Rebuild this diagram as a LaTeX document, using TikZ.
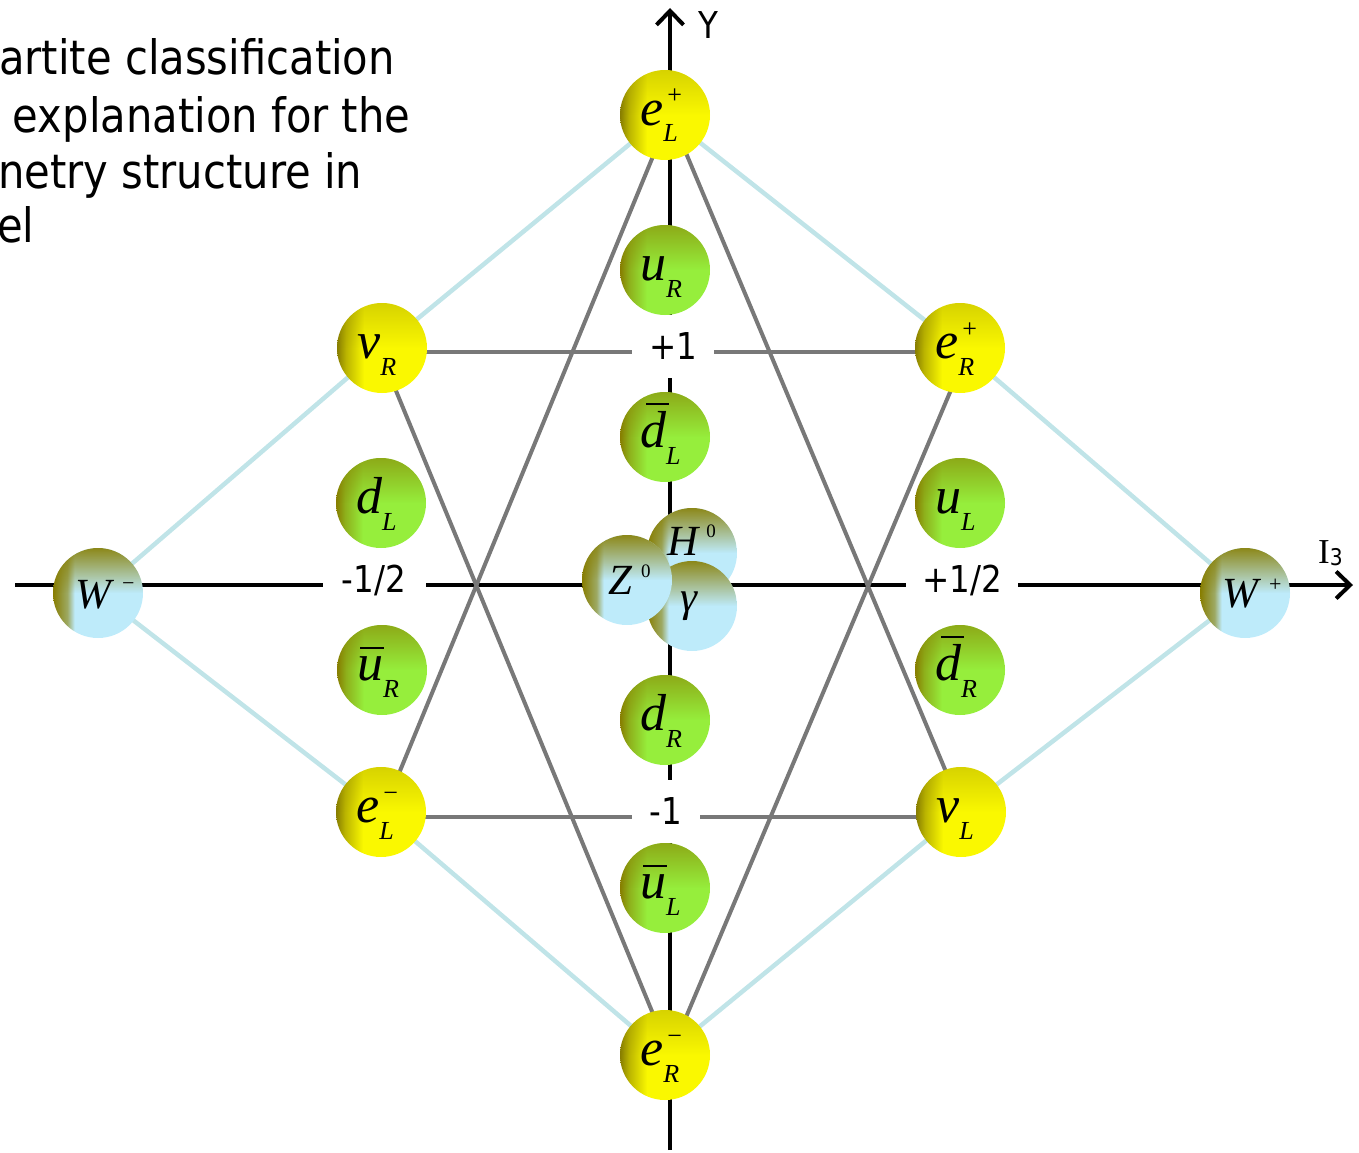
\documentclass[tikz,border=0pt]{standalone}
\usepackage{fontspec}
\setmainfont{DejaVu Sans}[FakeStretch=0.88]
\newfontfamily\tnr{Liberation Serif}
\newcommand\tnri{\tnr\itshape}
\usetikzlibrary{arrows.meta,calc,fadings}
\pgfdeclarelayer{bg}\pgfdeclarelayer{mid}\pgfsetlayers{bg,mid,main}
\definecolor{olv}{RGB}{135,125,0}
\definecolor{yel}{RGB}{250,248,0}
\definecolor{grn}{RGB}{150,238,60}
\definecolor{lbl}{RGB}{190,235,250}
\definecolor{diam}{RGB}{192,228,232}
\definecolor{gline}{RGB}{120,120,120}
\pgfdeclarehorizontalshading{yshade}{100bp}{color(0bp)=(olv); color(25bp)=(olv); color(30bp)=(olv!55!yel); color(40bp)=(yel); color(100bp)=(yel)}
\pgfdeclarehorizontalshading{gshade}{100bp}{color(0bp)=(olv); color(25bp)=(olv); color(30bp)=(olv!55!grn); color(40bp)=(grn); color(100bp)=(grn)}
\pgfdeclarehorizontalshading{bshade}{100bp}{color(0bp)=(olv); color(25bp)=(olv); color(33bp)=(olv!60!lbl); color(37bp)=(lbl); color(100bp)=(lbl)}
\tikzfading[name=topfade, top color=transparent!0, bottom color=transparent!100, middle color=transparent!100]
% particle label: main letter, superscript, subscript
\newcommand\ptc[3]{{\tnri\fontsize{52}{60}\selectfont #1}\makebox[0pt][l]{\kern4pt\raisebox{21pt}{\tnr\fontsize{26}{30}\selectfont #2}}\raisebox{-17pt}{\tnri\fontsize{26}{30}\selectfont #3}}
\newcommand\bd{\makebox[0pt][l]{\kern6pt\raisebox{42pt}{\rule{23pt}{2.3pt}}}d}
\newcommand\bu{\makebox[0pt][l]{\kern3pt\raisebox{31pt}{\rule{24pt}{2.3pt}}}u}
\begin{document}
\begin{tikzpicture}[x=1pt,y=-1pt,
  ball/.style={circle, minimum size=90pt, inner sep=0pt, shade},
  yball/.style={ball, shading=yshade, path picture={\fill[olv, path fading=topfade, fill opacity=0.3] (path picture bounding box.south west) rectangle (path picture bounding box.north east);}},
  gball/.style={ball, shading=gshade, path picture={\fill[olv, path fading=topfade, fill opacity=0.6] (path picture bounding box.south west) rectangle (path picture bounding box.north east);}},
  bball/.style={ball, shading=bshade, path picture={\fill[olv, path fading=topfade, fill opacity=0.9] (path picture bounding box.south west) rectangle (path picture bounding box.north east);}},
  lab/.style={anchor=base west, inner sep=0pt},
  axisline/.style={line width=4pt, black, -{Straight Barb[length=14pt,width=27pt]}},
  diamline/.style={line width=4.5pt, diam},
  triline/.style={line width=4pt, gline},
  axlab/.style={fill=white, inner sep=0pt, font=\fontsize{37}{44}\selectfont},
  titletext/.style={anchor=base west, inner sep=0pt, font=\fontsize{47.4}{56}\selectfont},
]
\useasboundingbox (0,0) rectangle (1359,1153);
\newcommand\ballat[4]{\node[#1] (#2) at (#3) {};\node[lab] (#2t) at ($(#2)+(-25,10)$) {#4};}

% title text (cut at left edge)
\node[titletext] (t1) at (-1,75) {artite classification};
\node[titletext] (t2) at (12.7,132) {explanation for the};
\node[titletext] (t3) at (-2,188) {netry structure in};
\node[titletext] (t4) at (-3,242) {el};

% balls
\ballat{yball}{eLp}{665,115}{\ptc{e}{+}{L}}
\ballat{gball}{uR}{665,270}{\ptc{u}{}{R}}
\ballat{yball}{nuR}{382,348}{\ptc{ν}{}{R}}
\ballat{yball}{eRp}{960,348}{\ptc{e}{+}{R}}
\ballat{gball}{dbL}{665,437}{\ptc{\bd}{}{L}}
\ballat{gball}{dL}{381,503}{\ptc{d}{}{L}}
\ballat{gball}{uL}{960,503}{\ptc{u}{}{L}}
\ballat{gball}{ubR}{382,670}{\ptc{\bu}{}{R}}
\ballat{gball}{dbR}{960,670}{\ptc{\bd}{}{R}}
\ballat{gball}{dR}{665,720}{\ptc{d}{}{R}}
\ballat{yball}{eLm}{381,812}{\ptc{e}{−}{L}}
\ballat{yball}{nuL}{961,812}{\ptc{ν}{}{L}}
\ballat{gball}{ubL}{665,888}{\ptc{\bu}{}{L}}
\ballat{yball}{eRm}{665,1055}{\ptc{e}{−}{R}}

\node[bball] (Wm) at (98,593) {};
\node[lab] (Wmt) at ($(Wm)+(-23,15)$) {{\tnri\fontsize{43}{48}\selectfont W}\kern11pt\raisebox{18pt}{\tnr\fontsize{22}{24}\selectfont −}};
\node[bball] (Wp) at (1245,593) {};
\node[lab] (Wpt) at ($(Wp)+(-23,14)$) {{\tnri\fontsize{43}{48}\selectfont W}\kern11pt\raisebox{16pt}{\tnr\fontsize{22}{24}\selectfont +}};
\node[bball] (H) at (692,553) {};
\node[lab] (Ht) at ($(H)+(-25,2)$) {{\tnri\fontsize{43}{48}\selectfont H}\kern8pt\raisebox{18pt}{\tnr\fontsize{19}{22}\selectfont 0}};
\node[bball] (gam) at (692,606) {};
\node[lab] (gamt) at ($(gam)+(-12,5)$) {{\tnri\fontsize{43}{48}\selectfont γ}};
\node[bball] (Z) at (627,580) {};
\node[lab] (Zt) at ($(Z)+(-19,14)$) {{\tnri\fontsize{43}{48}\selectfont Z}\kern9pt\raisebox{17pt}{\tnr\fontsize{19}{22}\selectfont 0}};

% axis labels
\node[anchor=base west, inner sep=0pt, font=\fontsize{37}{44}\selectfont] (ylab) at (698,39) {Y};
\node[anchor=base west, inner sep=0pt] (ilab) at (1318,563) {{\tnr\fontsize{35}{40}\selectfont I}\raisebox{-2pt}{\fontsize{23}{26}\selectfont 3}};

\begin{pgfonlayer}{mid}
\node[axlab, minimum width=82pt, minimum height=63pt] (p1) at (673,346) {+1};
\node[axlab, minimum width=68pt, minimum height=63pt] (m1) at (666,811) {-1};
\node[axlab, minimum width=103pt, minimum height=44pt] (mh) at (374,580) {-1/2};
\node[axlab, minimum width=112pt, minimum height=44pt] (ph) at (962,580) {+1/2};
\end{pgfonlayer}

\begin{pgfonlayer}{bg}
\coordinate (ybot) at (670,1150);
\coordinate (ytop) at (670,8);
\coordinate (xl) at (15,585);
\coordinate (xr) at (1353,585);
\draw[axisline] (ybot) -- (ytop);
\draw[axisline] (xl) -- (xr);
\draw[diamline] (eLp.center) -- (nuR.center) -- (Wm.center) -- (eLm.center) -- (eRm.center) -- (nuL.center) -- (Wp.center) -- (eRp.center) -- cycle;
\draw[triline] ($(nuR)+(0,4)$) -- ($(eRp)+(0,4)$);
\draw[triline] ($(eLm)+(0,5)$) -- ($(nuL)+(0,5)$);
\draw[triline] ($(eLp)+(5,0)$) -- ($(eLm)+(0,5)$);
\draw[triline] ($(eLp)+(5,0)$) -- ($(nuL)+(4,5)$);
\draw[triline] ($(nuR)+(-2,4)$) -- ($(eRm)+(5,0)$);
\draw[triline] ($(eRp)+(7,4)$) -- ($(eRm)+(5,0)$);
\end{pgfonlayer}
\end{tikzpicture}
\end{document}
